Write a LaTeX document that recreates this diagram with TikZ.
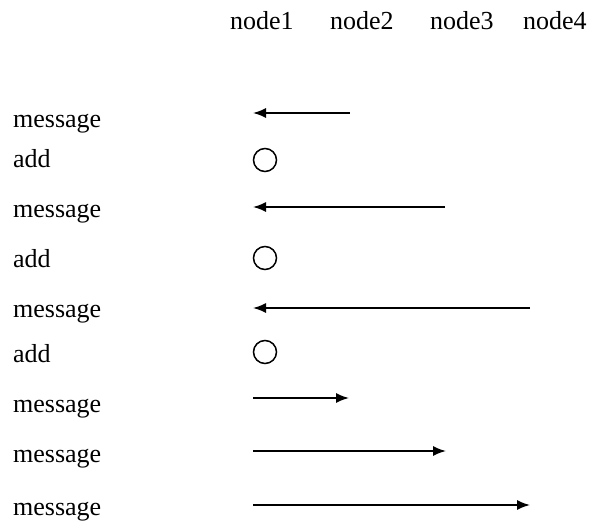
\documentclass[tikz,border=0pt]{standalone}
\usepackage{fontspec}
\setmainfont{Liberation Serif}
\usetikzlibrary{arrows.meta}
\begin{document}
\begin{tikzpicture}[x=1pt,y=-1pt,
  lbl/.style={anchor=base west,inner sep=0pt,font=\fontsize{26}{30}\selectfont},
  hdr/.style={anchor=base west,inner sep=0pt,font=\fontsize{26}{30}\selectfont},
  addmark/.style={circle,draw,line width=1.5pt,minimum size=23pt,inner sep=0pt},
  msg/.style={line width=1.6pt,-{Latex[length=13pt,width=10pt]}}]
\useasboundingbox (0,0) rectangle (592,525);

% column headings
\node[hdr] (h1) at (230,29) {node1};
\node[hdr] (h2) at (330,29) {node2};
\node[hdr] (h3) at (430,29) {node3};
\node[hdr] (h4) at (523,29) {node4};

% row labels
\node[lbl] (r1) at (13,127) {message};
\node[lbl] (r2) at (13,167) {add};
\node[lbl] (r3) at (13,217) {message};
\node[lbl] (r4) at (13,267) {add};
\node[lbl] (r5) at (13,317) {message};
\node[lbl] (r6) at (13,362) {add};
\node[lbl] (r7) at (13,412) {message};
\node[lbl] (r8) at (13,462) {message};
\node[lbl] (r9) at (13,515) {message};

% local additions at node1
\node[addmark] (c1) at (265,160) {};
\node[addmark] (c2) at (265,258) {};
\node[addmark] (c3) at (265,352) {};

% message end points
\coordinate (a1s) at (350,113); \coordinate (a1e) at (253,113);
\coordinate (a2s) at (445,207); \coordinate (a2e) at (253,207);
\coordinate (a3s) at (530,308); \coordinate (a3e) at (253,308);
\coordinate (a4s) at (253,398); \coordinate (a4e) at (349,398);
\coordinate (a5s) at (253,451); \coordinate (a5e) at (446,451);
\coordinate (a6s) at (253,505); \coordinate (a6e) at (530,505);

\draw[msg] (a1s) -- (a1e);
\draw[msg] (a2s) -- (a2e);
\draw[msg] (a3s) -- (a3e);
\draw[msg] (a4s) -- (a4e);
\draw[msg] (a5s) -- (a5e);
\draw[msg] (a6s) -- (a6e);
\end{tikzpicture}
\end{document}
